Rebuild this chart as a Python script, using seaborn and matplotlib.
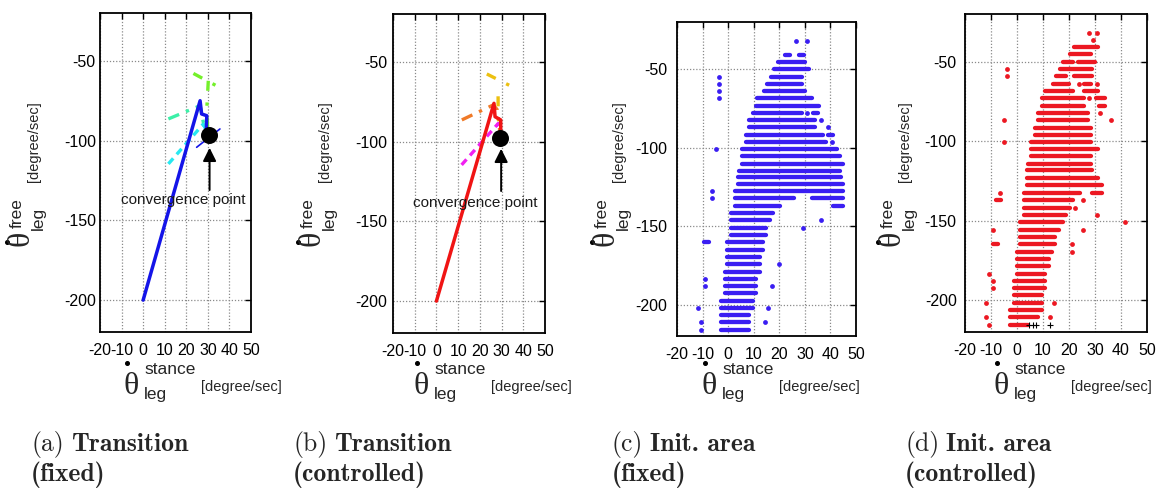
import numpy as np
import pandas as pd
import matplotlib
matplotlib.use("Agg")
import matplotlib.pyplot as plt
from matplotlib.lines import Line2D
import seaborn as sns

# ---------------- data ----------------
x_ticks = [-20, -10, 0, 10, 20, 30, 40, 50]
y_ticks = [-200, -150, -100, -50]

# panel (a) transition trajectories (fixed)
a_main_x = [0, 26.4, 27.1, 29.5, 29.3, 30.5]
a_main_y = [-200, -75, -83.3, -84.4, -93, -97]
a_thin_x = [24.8, 35.6]
a_thin_y = [-104.2, -92.7]
a_dash_x = [11.7, 27.9, 30]
a_dash_y = [-114.6, -89.6, -96]
a_dashdot_x = [11.7, 26.4, 27.9, 30]
a_dashdot_y = [-86.4, -78.1, -88.5, -96]
a_top_x = [23.3, 34.9]
a_top_y = [-57.9, -66.3]
a_vert_x = [30.2, 29.5, 30]
a_vert_y = [-62.5, -80, -96]
a_conv = (30.5, -96.5)

# panel (b) transition trajectories (controlled)
b_main_x = [0, 26.5, 27, 29.6, 29.6, 29.5]
b_main_y = [-200, -76, -84.4, -86.4, -94.5, -98]
b_dash_x = [11.6, 28.5, 29.5]
b_dash_y = [-114.6, -88.6, -97]
b_dashdot_x = [11.7, 26.2, 28, 29.5]
b_dashdot_y = [-86.4, -77, -80, -97]
b_top_x = [23.2, 34.7]
b_top_y = [-57.6, -65.5]
b_vert_x = [28.4, 28.4, 29.5]
b_vert_y = [-71.6, -84, -96]
b_conv = (29.5, -98)

# panel (c) initial area (fixed): horizontal runs of grid points + isolated points
c_seg_y = [-41.1, -41.1, -45.7, -50.2, -54.9, -59.4, -64.0, -68.7, -73.2, -77.9, -77.9,
           -82.6, -87.0, -91.7, -91.7, -96.2, -100.9, -105.5, -110.2, -114.9, -119.0,
           -123.2, -127.7, -132.4, -132.4, -137.1, -137.1, -141.6, -146.4, -151.1,
           -155.6, -160.3, -160.3, -165.0, -169.5, -174.2, -179.0, -183.5, -188.0,
           -192.7, -197.4, -201.9, -206.7, -211.2, -215.9]
c_seg_x0 = [22.3, 27.9, 19.5, 17.9, 16.6, 15.2, 13.9, 11.3, 11.0, 9.7, 33.1,
            8.2, 8.2, 6.9, 38.9, 6.9, 5.6, 5.6, 5.6, 4.3, 3.9,
            3.9, 2.6, 2.6, 32.7, 2.6, 41.2, 1.3, 1.3, 1.3,
            1.3, -0.3, -9.3, -0.3, -0.3, -0.3, -1.3, -1.3, -1.3,
            -1.3, -2.9, -2.9, -2.9, -2.9, -2.9]
c_seg_x1 = [24.3, 29.8, 30.1, 31.5, 28.7, 28.7, 30.1, 32.7, 35.7, 28.8, 35.3,
            34.1, 34.1, 37.0, 40.9, 38.3, 42.4, 43.7, 45.0, 43.7, 44.1,
            45.0, 45.0, 25.9, 45.0, 20.4, 45.0, 17.5, 16.2, 14.9,
            14.9, 13.6, -7.4, 13.6, 12.3, 12.3, 12.3, 11.0, 11.0,
            11.0, 9.7, 9.7, 8.2, 8.2, 8.2]
c_pt_x = [26.6, 30.7, 30.7, 36.3, 38.9, 40.5, -3.6, -3.6, -3.6, -3.6, -4.9, -6.5,
          -6.5, 36.3, 29.4, 19.8, -9.1, -9.1, 17.1, -11.9, 15.7, -10.6, 14.3, -10.6]
c_pt_y = [-31.9, -31.9, -77.9, -82.6, -87.0, -96.2, -54.9, -59.4, -64.0, -68.7, -100.9,
          -127.7, -132.4, -146.4, -151.1, -174.2, -183.5, -188.0, -188.0, -201.9,
          -201.9, -211.2, -211.2, -215.9]

# panel (d) initial area (controlled)
d_seg_y = [-41.0, -45.4, -50.0, -50.0, -54.6, -59.2, -59.2, -63.9, -63.9, -68.5, -68.5,
           -73.1, -73.1, -77.7, -77.7, -82.1, -86.8, -91.4, -95.8, -100.4, -104.8,
           -109.5, -114.1, -118.4, -123.0, -127.6, -132.5, -132.5, -137.1, -137.1,
           -141.8, -146.2, -151.1, -155.7, -160.1, -164.8, -164.8, -169.4, -174.0,
           -178.7, -183.3, -187.8, -192.4, -197.0, -201.7, -206.3, -210.8, -215.4]
d_seg_x0 = [22.1, 20.5, 17.8, 23.3, 16.5, 15.0, 22.1, 13.7, 25.9, 10.9, 25.9,
            9.5, 30.4, 9.5, 31.7, 8.2, 8.2, 6.9, 6.9, 5.4, 5.4,
            5.4, 4.1, 3.8, 3.8, 3.8, 2.6, 28.7, 2.6, -8.1,
            2.6, 2.6, 1.3, 1.3, 1.3, 1.3, -9.4, 0.0, 0.0,
            0.0, 0.0, -1.3, -1.3, -1.3, -1.3, -2.8, -2.8, -2.8]
d_seg_x1 = [31.3, 28.5, 21.7, 30.0, 28.7, 18.8, 28.7, 20.1, 28.5, 21.7, 31.3,
            25.9, 33.8, 25.9, 33.8, 27.2, 27.2, 28.5, 28.5, 28.5, 31.3,
            28.5, 28.5, 28.7, 31.3, 32.6, 24.4, 32.6, 21.7, -6.2,
            20.4, 18.8, 17.6, 16.3, 14.7, 14.7, -7.4, 13.5, 12.2,
            12.2, 10.9, 10.9, 10.9, 9.5, 9.5, 9.5, 8.2, 4.1]
d_pt_x = [27.8, 30.6, 29.2, -3.7, -3.7, 23.7, 30.6, 27.8, 31.9, -5.1, 36.2, -5.1,
          -6.5, 25.3, 22.4, 30.6, 41.7, -9.2, 25.3, 21.0, 21.0, -10.6, -9.2, -9.2,
          -11.9, 14.1, -11.9, 12.8, -10.6]
d_pt_y = [-31.9, -31.9, -36.6, -54.6, -59.2, -63.9, -63.9, -73.1, -82.1, -86.8, -86.8,
          -100.4, -132.5, -137.1, -141.8, -146.2, -151.1, -155.7, -155.7, -164.8,
          -169.4, -183.3, -187.8, -192.4, -201.7, -201.7, -210.8, -210.8, -215.4]
d_plus_x = [4.7, 6.0, 7.3, 12.8]
d_plus_y = [-215.4, -215.4, -215.4, -215.4]

# captions
cap_tags = ["(a)", "(b)", "(c)", "(d)"]
cap_line1 = ["Transition", "Transition", "Init. area", "Init. area"]
cap_line2 = ["(fixed)", "(controlled)", "(fixed)", "(controlled)"]

# ---------------- style ----------------
sns.set_style("white")
plt.rcParams["font.family"] = ["Liberation Sans", "DejaVu Sans"]
plt.rcParams["axes.unicode_minus"] = False

W, H = 1159, 488
fig = plt.figure(figsize=(W / 100, H / 100), dpi=100)


def ax_px(left, top, right, bottom):
    return fig.add_axes([left / W, 1 - bottom / H, (right - left) / W, (bottom - top) / H])


def ftxt(x, y, s, **kw):
    kw.setdefault("ha", "center")
    kw.setdefault("va", "center")
    return fig.text(x / W, 1 - y / H, s, **kw)


def fdot(x, y):
    fig.add_artist(Line2D([x / W], [1 - y / H], marker="o", markersize=2.6,
                          color="black", linestyle="none", transform=fig.transFigure))


def setup(ax, ypad):
    ax.set_xlim(-20, 50)
    ax.set_ylim(-220, -20)
    ax.set_xticks(x_ticks)
    ax.set_yticks(y_ticks)
    ax.grid(True, color="#8a8a8a", linestyle=(0, (1, 1.5)), linewidth=0.9)
    ax.set_axisbelow(True)
    for sp in ax.spines.values():
        sp.set_color("black")
        sp.set_linewidth(1.3)
    ax.tick_params(direction="in", top=True, right=True, length=4, width=1,
                   labelsize=11.5, colors="black")
    ax.tick_params(axis="x", pad=8)
    ax.tick_params(axis="y", pad=ypad)
    ax.set_xlabel("")
    ax.set_ylabel("")


def axis_labels(sx, sy):
    # x label pieces
    ftxt(131 + sx, 386, "θ", fontsize=23, family="Liberation Serif")
    fdot(127 + sx, 363)
    ftxt(170 + sx, 369, "stance", fontsize=12.5)
    ftxt(155 + sx, 394, "leg", fontsize=12.5)
    ftxt(241 + sx, 387, "[degree/sec]", fontsize=10.5)
    # y label pieces (rotated)
    ftxt(21 + sy, 238, "θ", fontsize=23, family="Liberation Serif", rotation=90)
    fdot(7 + sy, 242)
    ftxt(17 + sy, 213, "free", fontsize=12.5, rotation=90)
    ftxt(38 + sy, 218, "leg", fontsize=12.5, rotation=90)
    ftxt(34 + sy, 142, "[degree/sec]", fontsize=10.5, rotation=90)


def transition(ax, conv, main, thin, dash, dashdot, top, vert, cols, txt_xy):
    lw = 2.4
    sns.lineplot(x=dash[0], y=dash[1], sort=False, estimator=None, ax=ax,
                 color=cols["dash"], lw=lw, linestyle=(0, (2.2, 1.6)))
    sns.lineplot(x=dashdot[0], y=dashdot[1], sort=False, estimator=None, ax=ax,
                 color=cols["dashdot"], lw=lw, linestyle=(0, (3.5, 2.2, 1.0, 2.2)))
    sns.lineplot(x=top[0], y=top[1], sort=False, estimator=None, ax=ax,
                 color=cols["top"], lw=lw, linestyle=(0, (3, 3.5, 1, 3.5)))
    sns.lineplot(x=vert[0], y=vert[1], sort=False, estimator=None, ax=ax,
                 color=cols["top"], lw=lw, linestyle=(0, (3, 3.5, 1, 3.5)))
    if thin is not None:
        sns.lineplot(x=thin[0], y=thin[1], sort=False, estimator=None, ax=ax,
                     color=cols["main"], lw=1.2)
    sns.lineplot(x=main[0], y=main[1], sort=False, estimator=None, ax=ax,
                 color=cols["main"], lw=2.5)
    sns.scatterplot(x=[conv[0]], y=[conv[1]], ax=ax, s=150, color="black",
                    edgecolor="black", linewidth=0, zorder=5)
    ax.annotate("", xy=(conv[0] + 0.3, -104.5), xytext=(conv[0] + 0.3, -131),
                arrowprops=dict(arrowstyle="-|>", color="black", lw=1.4,
                                mutation_scale=20, shrinkA=0, shrinkB=0))
    ax.text(txt_xy[0], txt_xy[1], "convergence point", ha="center", va="center",
            fontsize=11, color="#1a1a1a")


def init_area(ax, seg_y, seg_x0, seg_x1, pt_x, pt_y, color):
    lc = ax.hlines(seg_y, seg_x0, seg_x1, colors=color, linewidth=3.1, zorder=3)
    lc.set_capstyle("round")
    sns.scatterplot(x=pt_x, y=pt_y, ax=ax, s=12, color=color, linewidth=0, zorder=3)


# panel a
ax_a = ax_px(100, 13, 251, 332)
setup(ax_a, 3)
transition(ax_a, a_conv, (a_main_x, a_main_y), (a_thin_x, a_thin_y),
           (a_dash_x, a_dash_y), (a_dashdot_x, a_dashdot_y), (a_top_x, a_top_y),
           (a_vert_x, a_vert_y),
           dict(main="#1414e8", dash="#28e8f0", dashdot="#3cf0a8", top="#74f02a"),
           (18.8, -137))

# panel b
ax_b = ax_px(393, 14, 545, 333)
setup(ax_b, 4)
transition(ax_b, b_conv, (b_main_x, b_main_y), None,
           (b_dash_x, b_dash_y), (b_dashdot_x, b_dashdot_y), (b_top_x, b_top_y),
           (b_vert_x, b_vert_y),
           dict(main="#f01414", dash="#f020f0", dashdot="#f07a28", top="#ecc010"),
           (17.8, -138.3))

# panel c
ax_c = ax_px(677, 22, 856, 336)
setup(ax_c, 7)
init_area(ax_c, c_seg_y, c_seg_x0, c_seg_x1, c_pt_x, c_pt_y, "#3a1ef2")

# panel d
ax_d = ax_px(965, 14, 1147, 332)
setup(ax_d, 6)
init_area(ax_d, d_seg_y, d_seg_x0, d_seg_x1, d_pt_x, d_pt_y, "#ec1822")
sns.scatterplot(x=d_plus_x, y=d_plus_y, ax=ax_d, marker="+", s=18, color="black",
                linewidth=0.8, zorder=4)

for sx, sy in [(0, 0), (290, 291), (578, 585), (870, 871)]:
    axis_labels(sx, sy)

# captions (Computer Modern roman + bold)
renderer = fig.canvas.get_renderer()
cap_x = [31, 293, 612, 905]
for x0, tag, l1, l2 in zip(cap_x, cap_tags, cap_line1, cap_line2):
    t = ftxt(x0, 451, tag, family="cmr10", fontsize=18.5, ha="left", va="baseline")
    bb = t.get_window_extent(renderer=renderer)
    ftxt(x0 + bb.width + 7, 451, l1, family="cmb10", fontsize=18.5, ha="left", va="baseline")
    ftxt(x0, 481, l2, family="cmb10", fontsize=18.5, ha="left", va="baseline")

fig.savefig("out.png", dpi=100, facecolor="white")
